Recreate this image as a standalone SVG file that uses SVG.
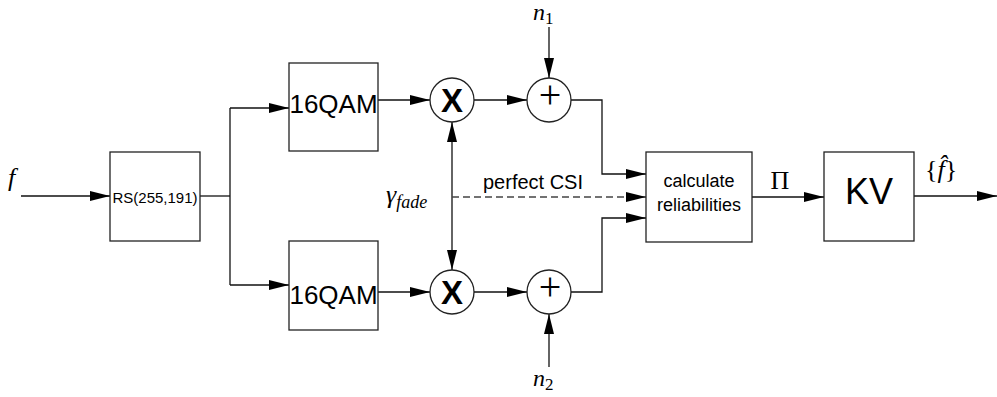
<svg xmlns="http://www.w3.org/2000/svg" width="997" height="397" viewBox="0 0 997 397">
<defs>
<marker id="ah" markerUnits="userSpaceOnUse" markerWidth="20" markerHeight="10" refX="20" refY="5" orient="auto-start-reverse" viewBox="0 0 20 10">
<path d="M0,0 L20,5 L0,10 z" fill="#000"/>
</marker>
<style>
.box{fill:#fff;stroke:#222;stroke-width:1.3}
.ln{fill:none;stroke:#111;stroke-width:1.3}
.dash{fill:none;stroke:#444;stroke-width:1.3;stroke-dasharray:7,4}
.sans{font-family:"Liberation Sans",Arial,sans-serif;fill:#000}
.math{font-family:"Liberation Serif","Times New Roman",serif;fill:#000}
.it{font-style:italic}
</style>
</defs>
<rect width="997" height="397" fill="#fff"/>
<g id="connectors">
<line class="ln" x1="21" y1="196" x2="110" y2="196" marker-end="url(#ah)"/>
<polyline class="ln" points="200,196 230,196"/>
<line class="ln" x1="230" y1="108" x2="230" y2="285"/>
<line class="ln" x1="230" y1="108" x2="289" y2="108" marker-end="url(#ah)"/>
<line class="ln" x1="230" y1="285" x2="289" y2="285" marker-end="url(#ah)"/>
<line class="ln" x1="378" y1="100" x2="430" y2="100" marker-end="url(#ah)"/>
<line class="ln" x1="378" y1="292" x2="430" y2="292" marker-end="url(#ah)"/>
<line class="ln" x1="474" y1="100" x2="527" y2="100" marker-end="url(#ah)"/>
<line class="ln" x1="474" y1="292" x2="527" y2="292" marker-end="url(#ah)"/>
<line class="ln" x1="549" y1="27" x2="549" y2="78" marker-end="url(#ah)"/>
<line class="ln" x1="549" y1="367" x2="549" y2="314" marker-end="url(#ah)"/>
<polyline class="ln" points="571,100 602,100 602,174 646,174" marker-end="url(#ah)"/>
<polyline class="ln" points="571,292 602,292 602,218 646,218" marker-end="url(#ah)"/>
<line class="ln" x1="452" y1="122" x2="452" y2="270" marker-start="url(#ah)" marker-end="url(#ah)"/>
<line class="dash" x1="452" y1="197" x2="646" y2="197" marker-end="url(#ah)"/>
<line class="ln" x1="752" y1="197" x2="824" y2="197" marker-end="url(#ah)"/>
<line class="ln" x1="914" y1="196" x2="997" y2="196" marker-end="url(#ah)"/>
</g>
<g id="input-f"><text class="math it" x="8" y="186" font-size="26">f</text></g>
<g id="rs">
<rect class="box" x="110" y="152" width="90" height="89"/>
<text class="sans" x="155" y="203" font-size="15" text-anchor="middle">RS(255,191)</text>
</g>
<g id="qam-top">
<rect class="box" x="289" y="63" width="89" height="88"/>
<text class="sans" x="333.5" y="113" font-size="26" text-anchor="middle">16QAM</text>
</g>
<g id="qam-bottom">
<rect class="box" x="289" y="241" width="89" height="89"/>
<text class="sans" x="333.5" y="304" font-size="26" text-anchor="middle">16QAM</text>
</g>
<g id="mult-top">
<circle class="box" cx="452" cy="100" r="22"/>
<text class="sans" x="452" y="112" font-size="33" font-weight="bold" text-anchor="middle">X</text>
</g>
<g id="mult-bottom">
<circle class="box" cx="452" cy="292" r="22"/>
<text class="sans" x="452" y="304" font-size="33" font-weight="bold" text-anchor="middle">X</text>
</g>
<g id="sum-top">
<circle class="box" cx="549" cy="100" r="22"/>
<text class="math" x="550" y="108" font-size="40" text-anchor="middle">+</text>
</g>
<g id="sum-bottom">
<circle class="box" cx="549" cy="292" r="22"/>
<text class="math" x="550" y="300" font-size="40" text-anchor="middle">+</text>
</g>
<g id="n1"><text class="math" x="533" y="20" font-size="24"><tspan class="it">n</tspan><tspan font-size="17" dy="4">1</tspan></text></g>
<g id="n2"><text class="math" x="533" y="386" font-size="24"><tspan class="it">n</tspan><tspan font-size="17" dy="4">2</tspan></text></g>
<g id="gamma"><text class="math it" x="386" y="203" font-size="26">γ<tspan font-size="18" dy="5">fade</tspan></text></g>
<g id="csi-label"><text class="sans" x="533" y="189" font-size="20" text-anchor="middle">perfect CSI</text></g>
<g id="calc">
<rect class="box" x="646" y="152" width="106" height="90"/>
<text class="sans" x="699" y="187" font-size="18" text-anchor="middle">calculate</text>
<text class="sans" x="699" y="211" font-size="18" text-anchor="middle">reliabilities</text>
</g>
<g id="pi"><text class="math" x="780" y="189" font-size="26" text-anchor="middle">Π</text></g>
<g id="kv">
<rect class="box" x="824" y="152" width="90" height="89"/>
<text class="sans" x="869" y="204" font-size="36" text-anchor="middle">KV</text>
</g>
<g id="output-f"><text class="math" x="925" y="178" font-size="26">{<tspan class="it">f̂</tspan>}</text></g>
</svg>
